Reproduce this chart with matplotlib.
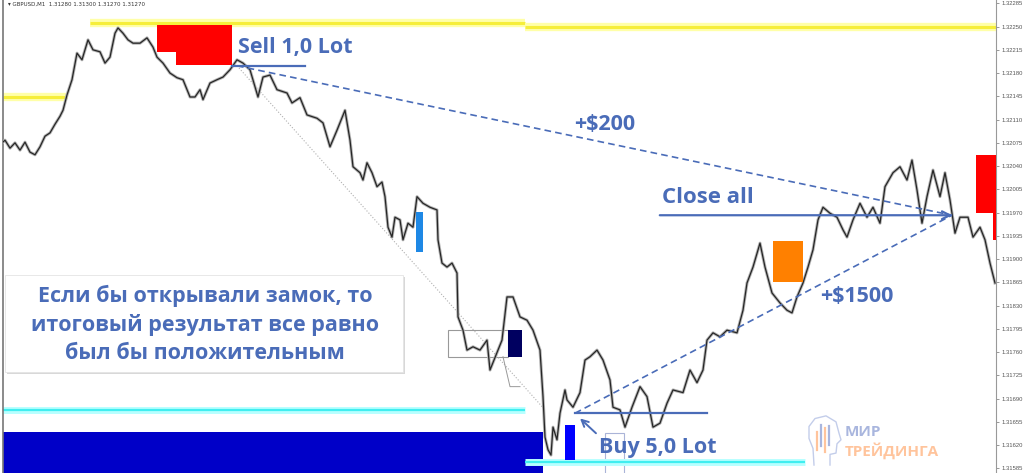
import matplotlib
matplotlib.use('Agg')
import matplotlib.pyplot as plt
from matplotlib.patches import Rectangle, Polygon, FancyArrowPatch

# price path (time in chart columns, price)
bar_t = [0, 5, 10, 15, 20, 25, 30, 35, 40, 45, 50, 55, 60, 63, 67, 72, 77, 82, 88, 93,
         100, 105, 110, 115, 118, 123, 128, 133, 140, 147, 153, 157, 163, 170, 177, 183, 190, 195, 200, 203,
         210, 217, 223, 230, 237, 243, 250, 258, 263, 270, 277, 287, 292, 300, 307, 317, 323, 330, 337, 345,
         350, 353, 360, 363, 367, 372, 377, 382, 385, 388, 392, 395, 400, 403, 408, 413, 417, 423, 430, 437,
         438, 442, 447, 452, 457, 458, 463, 467, 473, 480, 487, 490, 497, 502, 507, 513, 520, 527, 533, 540,
         543, 545, 548, 551, 553, 557, 560, 565, 567, 573, 580, 585, 590, 597, 603, 610, 613, 620, 625, 632,
         640, 647, 653, 660, 667, 673, 683, 690, 697, 703, 707, 713, 720, 727, 737, 743, 747, 753, 760, 765,
         772, 780, 787, 792, 797, 803, 808, 813, 818, 823, 830, 837, 843, 847, 853, 860, 867, 873, 880, 885,
         893, 900, 907, 912, 917, 922, 927, 933, 940, 945, 950, 955, 960, 968, 973, 980, 985, 990, 995]
close = [1.32072, 1.32079, 1.32067, 1.32075, 1.32064, 1.32076, 1.32061, 1.32057, 1.32069, 1.32085,
         1.32090, 1.32103, 1.32115, 1.32124, 1.32147, 1.32170, 1.32210, 1.32200, 1.32230, 1.32215,
         1.32212, 1.32195, 1.32204, 1.32240, 1.32248, 1.32240, 1.32230, 1.32225, 1.32225, 1.32233,
         1.32219, 1.32204, 1.32195, 1.32180, 1.32173, 1.32170, 1.32144, 1.32144, 1.32155, 1.32140,
         1.32165, 1.32170, 1.32174, 1.32185, 1.32200, 1.32195, 1.32185, 1.32144, 1.32174, 1.32177,
         1.32155, 1.32150, 1.32135, 1.32143, 1.32117, 1.32112, 1.32105, 1.32069, 1.32094, 1.32124,
         1.32079, 1.32039, 1.32030, 1.32019, 1.32045, 1.32030, 1.32009, 1.32016, 1.31994, 1.31948,
         1.31933, 1.31963, 1.31959, 1.31929, 1.31954, 1.31948, 1.31994, 1.31984, 1.31978, 1.31974,
         1.31929, 1.31894, 1.31888, 1.31894, 1.31879, 1.31813, 1.31793, 1.31763, 1.31768, 1.31763,
         1.31778, 1.31733, 1.31759, 1.31778, 1.31843, 1.31843, 1.31813, 1.31808, 1.31793, 1.31763,
         1.31693, 1.31632, 1.31613, 1.31605, 1.31647, 1.31628, 1.31668, 1.31703, 1.31688, 1.31677,
         1.31699, 1.31748, 1.31753, 1.31763, 1.31748, 1.31718, 1.31677, 1.31673, 1.31647, 1.31677,
         1.31708, 1.31693, 1.31647, 1.31653, 1.31683, 1.31703, 1.31699, 1.31733, 1.31714, 1.31733,
         1.31778, 1.31789, 1.31783, 1.31793, 1.31789, 1.31823, 1.31864, 1.31888, 1.31924, 1.31888,
         1.31849, 1.31834, 1.31823, 1.31819, 1.31843, 1.31864, 1.31888, 1.31914, 1.31959, 1.31978,
         1.31969, 1.31963, 1.31944, 1.31933, 1.31959, 1.31984, 1.31963, 1.31978, 1.31954, 1.32009,
         1.32030, 1.32039, 1.32019, 1.32049, 1.32004, 1.31954, 1.31994, 1.32034, 1.31994, 1.32030,
         1.31989, 1.31939, 1.31963, 1.31963, 1.31933, 1.31948, 1.31929, 1.31894, 1.31864]

price_ticks = [1.32285, 1.32250, 1.32215, 1.32180, 1.32145, 1.32110, 1.32075, 1.32040, 1.32005,
               1.31970, 1.31935, 1.31900, 1.31865, 1.31830, 1.31795, 1.31760, 1.31725, 1.31690,
               1.31655, 1.31620, 1.31585]

# trade levels
sell_t, sell_price = 237, 1.32191
buy_t, buy_price = 575, 1.31668
close_t, close_price = 952, 1.31966

BLUE = '#4a6cb8'

fig = plt.figure(figsize=(10.24, 4.73), dpi=100)
ax = fig.add_axes([3 / 1024, 0, 993 / 1024, 1])
ax.set_xlim(3, 996)
ax.set_ylim(1.31578, 1.32290)


def rect(t0, t1, p0, p1, **kw):
    ax.add_patch(Rectangle((t0, p0), t1 - t0, p1 - p0, **kw))


# zones
rect(3, 543, 1.31500, 1.31640, color='#0000c8', lw=0, zorder=1)
rect(565, 575, 1.31598, 1.31650, color='#0000ff', lw=0, zorder=4)
rect(416, 423, 1.31911, 1.31971, color='#1e88e5', lw=0, zorder=4)
rect(448, 508, 1.31753, 1.31793, fill=False, ec='#999999', lw=0.8, zorder=2)
rect(508, 522, 1.31753, 1.31793, color='#000060', lw=0, zorder=4)
rect(773, 803, 1.31866, 1.31927, color='#ff8000', lw=0, zorder=4)
rect(605, 624, 1.31570, 1.31638, fill=False, ec='#aab4d8', lw=0.8, zorder=2)
ax.add_patch(Polygon([(157, 1.32252), (232, 1.32252), (232, 1.32192), (176, 1.32192),
                      (176, 1.32212), (157, 1.32212)], closed=True, color='#ff0000', lw=0, zorder=4))
rect(976, 996, 1.31969, 1.32057, color='#ff0000', lw=0, zorder=4)
rect(993, 996, 1.31929, 1.31969, color='#ff0000', lw=0, zorder=4)

# support / resistance lines
for p, t0, t1 in [(1.32255, 90, 525), (1.32250, 525, 996), (1.32144, 3, 67)]:
    ax.plot([t0, t1], [p, p], color='#ffffa8', lw=6, zorder=2, solid_capstyle='butt')
    ax.plot([t0, t1], [p, p], color='#f6ee3a', lw=2.2, zorder=2, solid_capstyle='butt')
for p, t0, t1 in [(1.31673, 3, 525), (1.31595, 525, 805)]:
    ax.plot([t0, t1], [p, p], color='#b8ffff', lw=5, zorder=2, solid_capstyle='butt')
    ax.plot([t0, t1], [p, p], color='#40eef0', lw=1.6, zorder=2, solid_capstyle='butt')

# faint helper lines
ax.plot([sell_t, 545], [sell_price, 1.31673], color='#b0b0b0', lw=0.8, ls=':', zorder=2)
ax.plot([503, 510, 520], [1.31753, 1.31708, 1.31708], color='#999999', lw=0.7, zorder=2)

# price path
ax.plot(bar_t, close, color='#b4b4b4', lw=2.2, zorder=3)
ax.plot(bar_t, close, color='#262626', lw=0.9, zorder=3)

# trade annotations
ax.plot([232, 305], [sell_price, sell_price], color=BLUE, lw=1.6, zorder=5)
ax.plot([buy_t, 707], [buy_price, buy_price], color=BLUE, lw=1.6, zorder=5)
ax.plot([sell_t, close_t], [sell_price, close_price], color=BLUE, lw=1.2,
        dashes=(4, 2.5), zorder=5)
ax.plot([buy_t, close_t], [buy_price, close_price], color=BLUE, lw=1.2,
        dashes=(4, 2.5), zorder=5)
ax.add_patch(FancyArrowPatch((657, close_price), (955, close_price), arrowstyle='->',
                             mutation_scale=14, color=BLUE, lw=1.6, zorder=6))
ax.add_patch(FancyArrowPatch((598, 1.31635), (578, 1.31663), arrowstyle='->',
                             mutation_scale=12, color=BLUE, lw=1.4, zorder=6))

tkw = dict(family='Open Sans', fontweight='bold', color=BLUE, va='center', zorder=7)
ax.text(238, 1.32219, 'Sell 1,0 Lot', fontsize=15.5, ha='left', **tkw)
ax.text(605, 1.32103, '+$200', fontsize=15.5, ha='center', **tkw)
ax.text(662, 1.31992, 'Close all', fontsize=16, ha='left', **tkw)
ax.text(820, 1.31843, '+$1500', fontsize=15.5, ha='left', **tkw)
ax.text(599, 1.31617, 'Buy 5,0 Lot', fontsize=15.5, ha='left', **tkw)

# info box
rect(7, 405, 1.31727, 1.31873, color='#c8c8c8', lw=0, zorder=6, alpha=0.7)
rect(5, 403, 1.31730, 1.31876, fc='white', ec='#e4e4e4', lw=0.6, zorder=6)
for line, p in zip(['Если бы открывали замок, то', 'итоговый результат все равно',
                    'был бы положительным'], [1.31845, 1.31801, 1.31758]):
    ax.text(205, p, line, fontsize=15.5, ha='center', **tkw)

# watermark: head outline with small candles, then the name
head = [(814, 1.31590), (813, 1.31615), (809, 1.31630), (809, 1.31648), (815, 1.31660),
        (826, 1.31664), (836, 1.31655), (839, 1.31638), (841, 1.31628), (837, 1.31622),
        (836, 1.31608), (830, 1.31606), (830, 1.31590)]
ax.plot([h[0] for h in head], [h[1] for h in head], color='#c3cdea', lw=1.0, zorder=2)
for t, lo, hi, c in [(817, 1.31612, 1.31640, '#ffc49c'), (821, 1.31618, 1.31650, '#a9b6de'),
                     (825, 1.31610, 1.31645, '#ffc49c'), (829, 1.31620, 1.31648, '#a9b6de')]:
    ax.plot([t, t], [lo, hi], color=c, lw=1.6, zorder=2)
ax.text(845, 1.31640, 'МИР', fontsize=11, family='Open Sans', fontweight='bold',
        color='#a9b6de', va='center', zorder=2)
ax.text(845, 1.31612, 'ТРЕЙДИНГА', fontsize=11, family='Open Sans', fontweight='bold',
        color='#ffc49c', va='center', zorder=2)

# axes styling
ax.yaxis.tick_right()
ax.set_yticks(price_ticks)
ax.set_yticklabels([f'{p:.5f}' for p in price_ticks], family='Liberation Sans')
ax.tick_params(axis='y', labelsize=4.2, labelcolor='#555555', color='#888888', length=2.5,
               width=0.6, pad=1.5)
ax.set_xticks([])
for side in ['top', 'bottom']:
    ax.spines[side].set_visible(False)
ax.spines['right'].set_color('#999999')
ax.spines['left'].set_color('#777777')
ax.spines['left'].set_linewidth(1.2)

fig.text(8 / 1024, 1 - 4 / 473, '▾ GBPUSD,M1  1.31280 1.31300 1.31270 1.31270', fontsize=4,
         color='#333333', va='center', ha='left')

plt.savefig('out.png', dpi=100)
